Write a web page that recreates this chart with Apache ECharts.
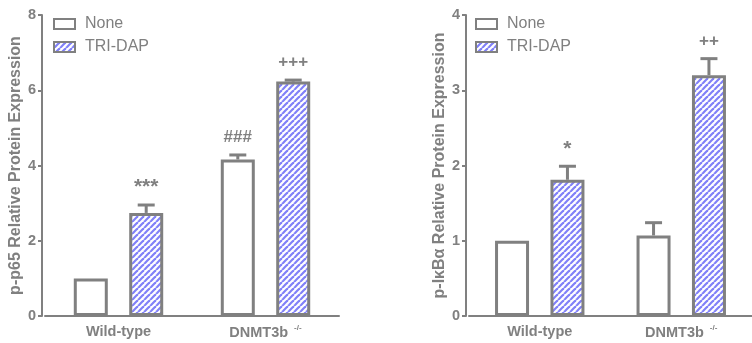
<!DOCTYPE html>
<html>
<head>
<meta charset="utf-8">
<script src="https://cdn.jsdelivr.net/npm/echarts@6/dist/echarts.min.js"></script>
<style>
  html, body { margin: 0; padding: 0; background: #fff; }
  #chart { width: 752px; height: 343px; }
</style>
</head>
<body>
<div id="chart"></div>
<script>
// data
var groups = ["Wild-type", "DNMT3b{sup|-/-}"];
var seriesNames = ["None", "TRI-DAP"];

var p65None = [1.0, 4.16];
var p65NoneErr = [0, 0.12];
var p65Tri = [2.74, 6.23];
var p65TriErr = [0.21, 0.04];
var p65NoneMarks = ["", "###"];
var p65TriMarks = ["***", "+++"];

var ikbNone = [1.0, 1.07];
var ikbNoneErr = [0, 0.17];
var ikbTri = [1.81, 3.2];
var ikbTriErr = [0.18, 0.22];
var ikbNoneMarks = ["", ""];
var ikbTriMarks = ["*", "++"];

var p65Ticks = { max: 8, interval: 2 };
var ikbTicks = { max: 4, interval: 1 };

var GRAY = "#808080";
var STRIPE = "#8080f8";
var FONT = "Liberation Sans";
var BAR_SHIFT = 27.7;

// hatch pattern for TRI-DAP bars
function makeHatch() {
  var c = document.createElement("canvas");
  c.width = 6; c.height = 6;
  var ctx = c.getContext("2d");
  ctx.fillStyle = "#fff";
  ctx.fillRect(0, 0, 6, 6);
  ctx.strokeStyle = STRIPE;
  ctx.lineWidth = 2.2;
  [0, 6, 12].forEach(function (k) {
    ctx.beginPath();
    ctx.moveTo(k, 0);
    ctx.lineTo(k - 6, 6);
    ctx.stroke();
  });
  return c;
}
var hatch = { image: makeHatch(), repeat: "repeat" };

function zip(vals, errs) {
  return vals.map(function (v, i) { return [i, v, errs[i]]; });
}

function errRender(shift, marks) {
  return function (params, api) {
    var i = api.value(0), v = api.value(1), e = api.value(2);
    var base = api.coord([i, v]);
    var top = api.coord([i, v + e]);
    var x = base[0] + shift;
    var kids = [];
    if (e > 0) {
      kids.push({ type: "line", shape: { x1: x, y1: base[1], x2: x, y2: top[1] },
        style: { stroke: GRAY, lineWidth: 3 } });
      kids.push({ type: "line", shape: { x1: x - 8.5, y1: top[1], x2: x + 8.5, y2: top[1] },
        style: { stroke: GRAY, lineWidth: 3 } });
    }
    var m = marks[params.dataIndex];
    if (m) {
      var big = m.charAt(0) === "*";
      kids.push({ type: "text", style: { x: x, y: top[1] - (big ? 7 : 9), text: m, fill: GRAY,
        font: "bold " + (big ? 21 : 17) + "px 'Liberation Sans', Arial, sans-serif",
        align: "center", verticalAlign: "bottom" } });
    }
    return { type: "group", children: kids };
  };
}

function xAxisFor(idx) {
  return {
    type: "category", gridIndex: idx, data: groups,
    axisLine: { lineStyle: { color: GRAY, width: 2 } },
    axisTick: { alignWithLabel: true, length: 4, lineStyle: { color: GRAY, width: 2 } },
    axisLabel: {
      interval: 0, hideOverlap: false,
      margin: 8, color: GRAY, fontWeight: "bold", fontSize: 14.5, fontFamily: FONT,
      rich: { sup: { fontSize: 8, color: GRAY, padding: [0, 0, 9, 6], fontFamily: FONT } }
    }
  };
}

function yAxisFor(idx, ticks, name, gap) {
  return {
    type: "value", gridIndex: idx, min: 0, max: ticks.max, interval: ticks.interval,
    offset: 3,
    name: name, nameLocation: "middle", nameGap: gap,
    nameTextStyle: { color: GRAY, fontWeight: "bold", fontSize: 16, fontFamily: FONT },
    splitLine: { show: false },
    axisLine: { show: true, lineStyle: { color: GRAY, width: 2 } },
    axisTick: { show: true, length: 4, lineStyle: { color: GRAY, width: 2 } },
    axisLabel: { margin: 6, color: GRAY, fontWeight: "bold", fontSize: 14.5, fontFamily: FONT }
  };
}

function barsFor(idx, none, tri) {
  return [
    { name: seriesNames[0], type: "bar", xAxisIndex: idx, yAxisIndex: idx,
      barWidth: 34, barGap: "63%", data: none,
      itemStyle: { color: "#fff", borderColor: GRAY, borderWidth: 3 } },
    { name: seriesNames[1], type: "bar", xAxisIndex: idx, yAxisIndex: idx,
      barWidth: 34, barGap: "63%", data: tri,
      itemStyle: { color: hatch, borderColor: GRAY, borderWidth: 3 } }
  ];
}

function legendFor(left) {
  return {
    left: left, top: 16, orient: "vertical", padding: 0,
    itemWidth: 21, itemHeight: 10, itemGap: 7,
    selectedMode: false, icon: "rect",
    textStyle: { color: GRAY, fontSize: 16, fontFamily: FONT, padding: [0, 0, 0, 5] },
    data: seriesNames
  };
}

var chart = echarts.init(document.getElementById("chart"));
chart.setOption({
  animation: false,
  backgroundColor: "#fff",
  grid: [
    { left: 45, top: 15, width: 294, height: 301 },
    { left: 469, top: 15, width: 294, height: 301 }
  ],
  legend: [legendFor(53), legendFor(475)],
  xAxis: [xAxisFor(0), xAxisFor(1)],
  yAxis: [
    yAxisFor(0, p65Ticks, "p-p65 Relative Protein Expression", 17),
    yAxisFor(1, ikbTicks, "p-I\u03baB\u03b1 Relative Protein Expression", 17)
  ],
  series: [].concat(
    barsFor(0, p65None, p65Tri),
    barsFor(1, ikbNone, ikbTri),
    [
      { type: "custom", xAxisIndex: 0, yAxisIndex: 0, z: 5, data: zip(p65None, p65NoneErr), renderItem: errRender(-BAR_SHIFT, p65NoneMarks) },
      { type: "custom", xAxisIndex: 0, yAxisIndex: 0, z: 5, data: zip(p65Tri, p65TriErr), renderItem: errRender(BAR_SHIFT, p65TriMarks) },
      { type: "custom", xAxisIndex: 1, yAxisIndex: 1, z: 5, data: zip(ikbNone, ikbNoneErr), renderItem: errRender(-BAR_SHIFT, ikbNoneMarks) },
      { type: "custom", xAxisIndex: 1, yAxisIndex: 1, z: 5, data: zip(ikbTri, ikbTriErr), renderItem: errRender(BAR_SHIFT, ikbTriMarks) }
    ]
  )
});
</script>
</body>
</html>
